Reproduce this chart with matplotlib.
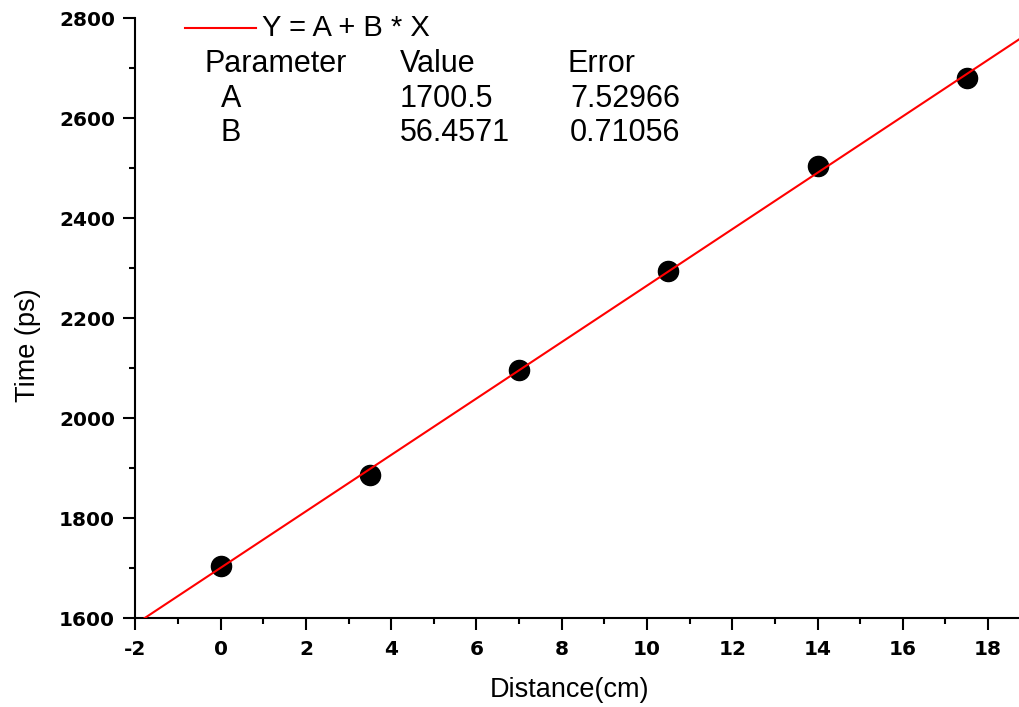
import numpy as np
import matplotlib
matplotlib.use("Agg")
import matplotlib.pyplot as plt
from matplotlib.ticker import MultipleLocator

# measured points
distance = [0, 3.5, 7, 10.5, 14, 17.5]
time_ps = [1704, 1886, 2096, 2294, 2504, 2680]

# linear fit parameters shown in the box
param_names = ["A", "B"]
param_values = ["1700.5", "56.4571"]
param_errors = ["7.52966", "0.71056"]
fit_a = 1700.5
fit_b = 56.4571

plt.rcParams["font.family"] = ["Liberation Sans", "DejaVu Sans"]
plt.rcParams["axes.unicode_minus"] = False

W, H = 1020, 707
fig = plt.figure(figsize=(W / 100, H / 100), dpi=100)
ax = fig.add_axes([135.4 / W, 1 - 618 / H, 1 - 135.4 / W, (618 - 18.3) / H])

ax.set_xlim(-2, 18.75)
ax.set_ylim(1600, 2800)

x_fit = np.array(ax.get_xlim())
ax.plot(x_fit, fit_a + fit_b * x_fit, color="red", lw=1.5, zorder=3)
ax.plot(distance, time_ps, "o", color="black", ms=14.5, zorder=2)

ax.spines["top"].set_visible(False)
ax.spines["right"].set_visible(False)
for s in ["left", "bottom"]:
    ax.spines[s].set_linewidth(1.5)

ax.xaxis.set_major_locator(MultipleLocator(2))
ax.xaxis.set_minor_locator(MultipleLocator(1))
ax.yaxis.set_major_locator(MultipleLocator(200))
ax.yaxis.set_minor_locator(MultipleLocator(100))
ax.tick_params(which="major", direction="out", length=8.6, width=1.5, labelsize=14.5)
ax.tick_params(which="minor", direction="out", length=4.3, width=1.5)
ax.tick_params(axis="x", which="major", pad=7.5)
ax.tick_params(axis="y", which="major", pad=6)
# the tick numbers are a wide heavy bold
for lab in ax.get_xticklabels() + ax.get_yticklabels():
    lab.set_fontweight("bold")
    lab.set_fontfamily("DejaVu Sans")

fig.text(570 / W, 1 - 690 / H, "Distance(cm)", ha="center", va="center", fontsize=19.5)
fig.text(28 / W, 1 - 345 / H, "Time (ps)", ha="center", va="center", rotation=90, fontsize=19.5)

# fit box in the upper left
fig.add_artist(plt.Line2D([185 / W, 256 / W], [1 - 28 / H, 1 - 28 / H], color="red", lw=1.5))
fig.text(262 / W, 1 - 28 / H, "Y = A + B * X", ha="left", va="center", fontsize=21)
cols = [205, 400, 567]
fig.text(cols[0] / W, 1 - 64 / H, "Parameter", ha="left", va="center", fontsize=22)
fig.text(cols[1] / W, 1 - 64 / H, "Value", ha="left", va="center", fontsize=22)
fig.text(cols[2] / W, 1 - 64 / H, "Error", ha="left", va="center", fontsize=22)
for i, name in enumerate(param_names):
    y = 1 - (99 + 34 * i) / H
    fig.text(221 / W, y, name, ha="left", va="center", fontsize=22)
    fig.text(cols[1] / W, y, param_values[i], ha="left", va="center", fontsize=22)
    fig.text(570 / W, y, param_errors[i], ha="left", va="center", fontsize=22)

fig.savefig("out.png", dpi=100)
